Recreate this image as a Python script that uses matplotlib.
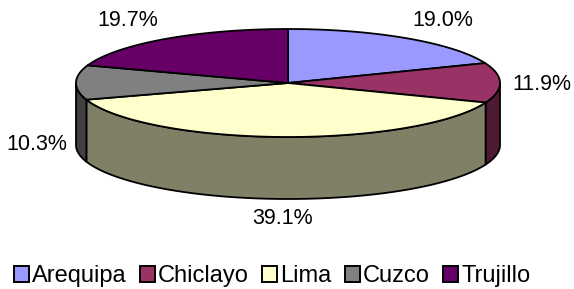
import numpy as np
import matplotlib
matplotlib.use("Agg")
import matplotlib.pyplot as plt
from matplotlib.patches import Polygon, Patch

plt.rcParams['font.family'] = ['Liberation Sans', 'DejaVu Sans']

# data
cities = ['Arequipa', 'Chiclayo', 'Lima', 'Cuzco', 'Trujillo']
shares = [19.0, 11.9, 39.1, 10.3, 19.7]
colors = ['#9999FF', '#993366', '#FFFFCC', '#808080', '#660066']

# layout of the 3d pie (pixels)
cx, cy = 288, 83
a, b = 212, 54
depth = 62
label_pos = [(443, 21), (542, 85), (283, 219), (37, 145), (128, 21)]

def pt(t, dy=0):
    t = np.radians(t)
    return cx + a * np.cos(t), cy - b * np.sin(t) + dy

def darker(c, f=0.5):
    r, g, bb = matplotlib.colors.to_rgb(c)
    return (r * f, g * f, bb * f)

fig = plt.figure(figsize=(5.74, 2.89), dpi=100)
ax = fig.add_axes([0, 0, 1, 1])
ax.set_xlim(0, 574)
ax.set_ylim(289, 0)
ax.axis('off')

# slice angles, clockwise from 12 o'clock
fracs = np.array(shares) / sum(shares)
starts = 90 - 360 * np.concatenate([[0], np.cumsum(fracs)[:-1]])
ends = starts - 360 * fracs

# side walls (front half only: angles between -180 and 0)
for s, e, c in zip(starts, ends, colors):
    for off in (0, -360):
        t1 = min(s + off, 0)
        t2 = max(e + off, -180)
        if t1 <= t2:
            continue
        ts = np.linspace(t1, t2, 80)
        top = [pt(t) for t in ts]
        bot = [pt(t, depth) for t in ts[::-1]]
        ax.add_patch(Polygon(top + bot, closed=True, fc=darker(c), ec='black',
                             lw=1.3, joinstyle='round'))

# top faces
for s, e, c in zip(starts, ends, colors):
    ts = np.linspace(s, e, 120)
    verts = [(cx, cy)] + [pt(t) for t in ts]
    ax.add_patch(Polygon(verts, closed=True, fc=c, ec='black', lw=1.3,
                         joinstyle='round'))

for v, (x, y) in zip(shares, label_pos):
    ax.text(x, y, f'{v:.1f}%', ha='center', va='center', fontsize=15.5,
            color='black')

handles = [Patch(fc=c, ec='black', lw=1.4) for c in colors]
ax.legend(handles, cities, loc='center',
          bbox_to_anchor=(272 / 574, 1 - 276 / 289),
          ncol=5, frameon=False, fontsize=17, handlelength=0.66,
          handleheight=0.66, handletextpad=0.12, columnspacing=0.55,
          borderpad=0, borderaxespad=0)

fig.savefig('out.png', dpi=100)
